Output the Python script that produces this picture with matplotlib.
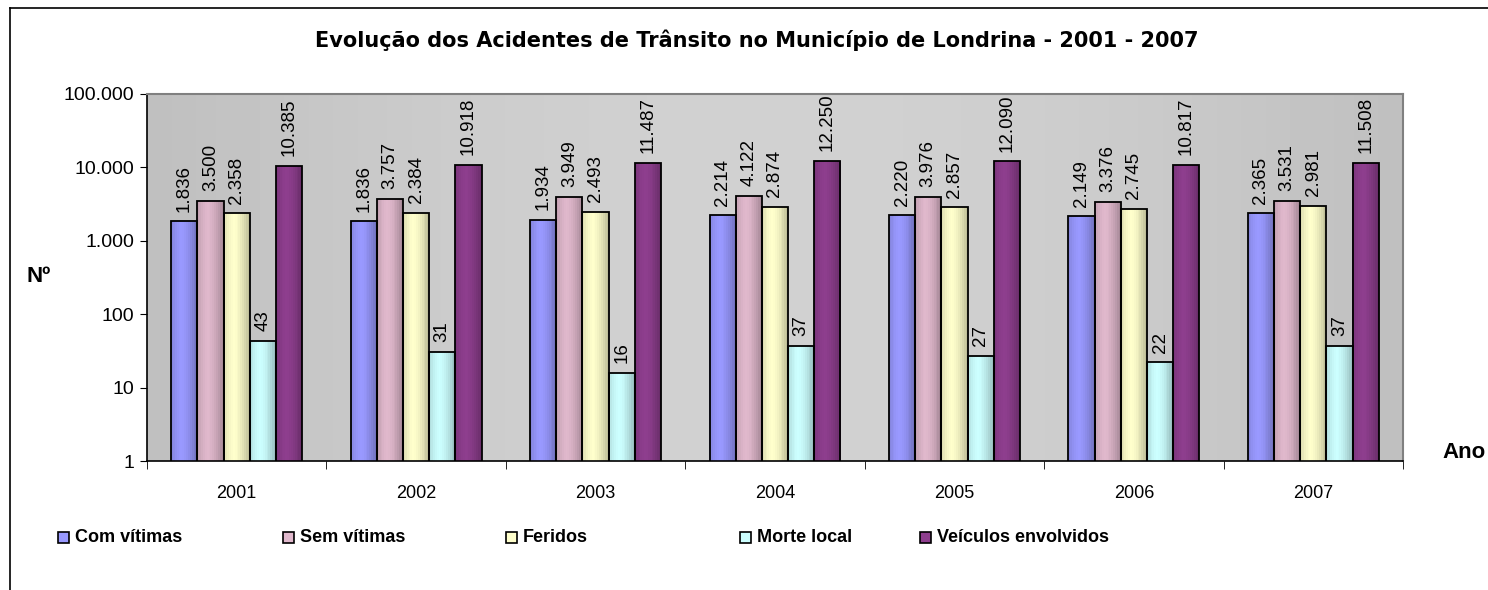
import numpy as np
import matplotlib
matplotlib.use('Agg')
import matplotlib.pyplot as plt
from matplotlib.colors import to_rgb
from matplotlib.lines import Line2D
from matplotlib.patches import Rectangle

plt.rcParams['font.family'] = ['Liberation Sans', 'DejaVu Sans']

anos = ['2001', '2002', '2003', '2004', '2005', '2006', '2007']
series = ['Com vítimas', 'Sem vítimas', 'Feridos', 'Morte local', 'Veículos envolvidos']
com_vitimas = [1836, 1836, 1934, 2214, 2220, 2149, 2365]
sem_vitimas = [3500, 3757, 3949, 4122, 3976, 3376, 3531]
feridos = [2358, 2384, 2493, 2874, 2857, 2745, 2981]
morte_local = [43, 31, 16, 37, 27, 22, 37]
veiculos = [10385, 10918, 11487, 12250, 12090, 10817, 11508]
valores = [com_vitimas, sem_vitimas, feridos, morte_local, veiculos]
cores = ['#9999FF', '#E0B8CC', '#FFFFCC', '#CCFFFF', '#8E3E8E']
y_ticks = [1, 10, 100, 1000, 10000, 100000]

def fmt(v):
    return f'{v:,}'.replace(',', '.')

fig = plt.figure(figsize=(14.88, 5.9), dpi=100)
ax = fig.add_axes([147 / 1488, 1 - 461 / 590, (1403 - 147) / 1488, (461 - 94) / 590])

# gray background, lighter in the middle
grad = np.linspace(0, 1, 256)
bg = 0.75 + 0.07 * np.sin(np.pi * grad)
ax.imshow(np.tile(bg, (2, 1)), cmap='gray', vmin=0, vmax=1, aspect='auto',
          extent=[0, 1, 0, 1], transform=ax.transAxes, zorder=0)

x = np.arange(len(anos))
bw = 0.146
n_sl = 14
for i, (vals, cor) in enumerate(zip(valores, cores)):
    base = np.array(to_rgb(cor))
    centro = x + (i - 2) * bw
    for k in range(n_sl):
        t = (k + 0.5) / n_sl
        d = abs(t - 0.4) / 0.6
        c = np.clip(base * (1 - 0.28 * d ** 1.6), 0, 1)
        ax.bar(centro - bw / 2 + t * bw, vals, width=bw / n_sl + 0.001, bottom=0,
               color=c, linewidth=0, zorder=2)
    ax.bar(centro, vals, width=bw, fill=False, edgecolor='black', linewidth=1.3, zorder=3)
    for xc, v in zip(centro, vals):
        ax.annotate(fmt(v), (xc, v), xytext=(0, 7), textcoords='offset points',
                    rotation=90, ha='center', va='bottom', fontsize=13.5, zorder=4)

ax.set_yscale('log')
ax.set_ylim(1, 100000)
ax.set_xlim(-0.5, len(anos) - 0.5)
ax.set_yticks(y_ticks)
ax.set_yticklabels([fmt(v) for v in y_ticks], fontsize=14)
ax.yaxis.set_minor_locator(matplotlib.ticker.NullLocator())
ax.set_xticks(x)
ax.set_xticklabels(anos, fontsize=13)
ax.tick_params(axis='x', length=0, pad=17.5)
ax.set_xticks(np.arange(len(anos) + 1) - 0.5, minor=True)
ax.tick_params(axis='x', which='minor', length=6, direction='out', color='black')
ax.tick_params(axis='y', length=5, direction='out', color='black', pad=4)
for s in ['top', 'right']:
    ax.spines[s].set_color('#808080')
    ax.spines[s].set_linewidth(1.5)
for s in ['left', 'bottom']:
    ax.spines[s].set_color('black')
    ax.spines[s].set_linewidth(1.2)

fig.text(757 / 1488, 1 - 40 / 590, 'Evolução dos Acidentes de Trânsito no Município de Londrina - 2001 - 2007',
         ha='center', va='center', fontsize=15, fontweight='bold', family='DejaVu Sans')
fig.text(39 / 1488, 1 - 276 / 590, 'Nº', ha='center', va='center', fontsize=16, fontweight='bold')
fig.text(1464 / 1488, 1 - 453 / 590, 'Ano', ha='center', va='center', fontsize=16, fontweight='bold')

# legend
leg_x = [58, 283, 506, 740, 920]
for lx, nome, cor in zip(leg_x, series, cores):
    fig.patches.append(Rectangle((lx / 1488, 1 - 543 / 590), 11 / 1488, 11 / 590,
                                 transform=fig.transFigure, facecolor=cor,
                                 edgecolor='black', linewidth=1.2))
    fig.text((lx + 17) / 1488, 1 - 538 / 590, nome, ha='left', va='center',
             fontsize=13, fontweight='bold')

# outer frame (left and top)
fig.add_artist(Line2D([10 / 1488, 10 / 1488], [0, 1 - 8 / 590], color='black', lw=1.2))
fig.add_artist(Line2D([10 / 1488, 1], [1 - 8 / 590, 1 - 8 / 590], color='black', lw=1.2))

fig.savefig('out.png', dpi=100)
